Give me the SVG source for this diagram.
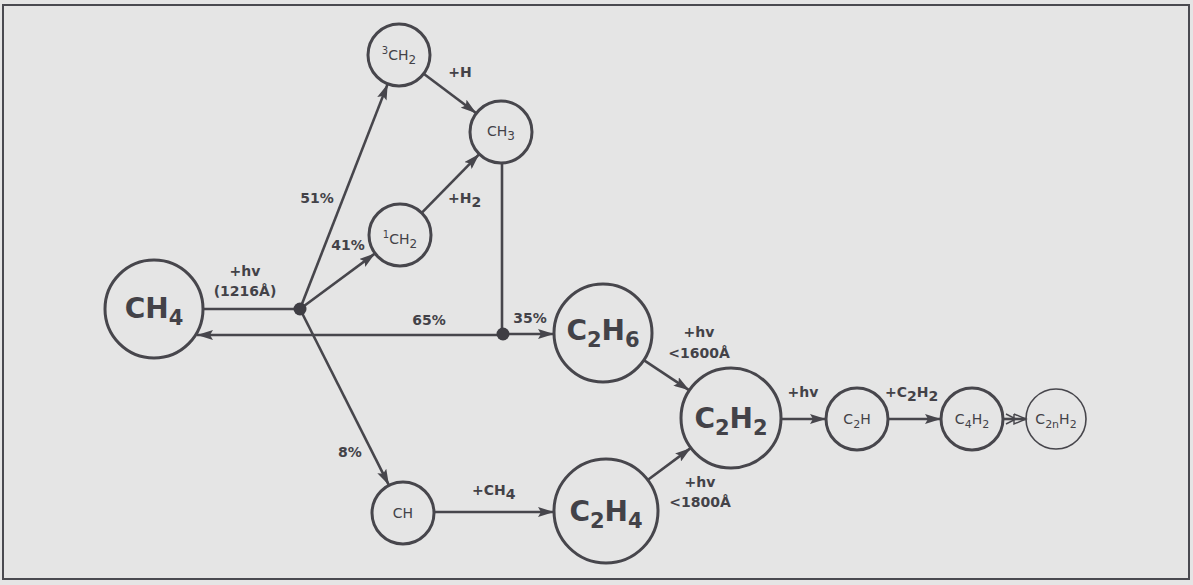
<svg xmlns="http://www.w3.org/2000/svg" width="1193" height="585" viewBox="0 0 1193 585">
<style>
.bg{fill:#e5e5e5}
.frame{fill:none;stroke:#4a4a50;stroke-width:2}
.node{fill:none;stroke:#47464c;stroke-width:3}
.thin{fill:none;stroke:#47464c;stroke-width:1.6}
.ln{fill:none;stroke:#47464c;stroke-width:2.6}
.arr{marker-end:url(#ah)}
.big{font-family:"DejaVu Sans",sans-serif;font-weight:bold;font-size:28px;fill:#434248;text-anchor:middle}
.sm{font-family:"DejaVu Sans",sans-serif;font-size:14px;fill:#434248;text-anchor:middle}
.lb{font-family:"DejaVu Sans",sans-serif;font-weight:bold;font-size:14px;fill:#434248}
.mid{text-anchor:middle}
.dot{fill:#3f3e44}
</style>
<defs>
<marker id="ah" markerUnits="userSpaceOnUse" markerWidth="18" markerHeight="10" refX="16" refY="5" orient="auto">
<path d="M0,0 L16,5 L0,10 L3,5 z" fill="#47464c"/>
</marker>
<marker id="dbl" markerUnits="userSpaceOnUse" markerWidth="24" markerHeight="12" refX="22" refY="6" orient="auto">
<path d="M2,1 L12,6 L2,11 M10,1 L22,6 L10,11 L10,1" fill="none" stroke="#47464c" stroke-width="1.4"/>
</marker>
</defs>
<rect class="bg" x="0" y="0" width="1193" height="585"/>
<rect class="frame" x="3" y="5" width="1186" height="574"/>

<g id="connectors">
<line class="ln" x1="203" y1="309" x2="300" y2="309"/>
<line class="ln arr" x1="503" y1="335" x2="197" y2="335"/>
<line class="ln" x1="502" y1="163" x2="502" y2="334"/>
<line class="ln arr" x1="300" y1="309" x2="387.7" y2="83.9"/>
<line class="ln arr" x1="300" y1="309" x2="375.1" y2="253.4"/>
<line class="ln arr" x1="300" y1="309" x2="389" y2="485.3"/>
<line class="ln arr" x1="423.7" y1="73.7" x2="476.3" y2="113.3"/>
<line class="ln arr" x1="421.7" y1="212.9" x2="479.3" y2="154.1"/>
<line class="ln arr" x1="503" y1="334" x2="554" y2="334"/>
<line class="ln arr" x1="434" y1="512" x2="554" y2="512"/>
<line class="ln arr" x1="643.8" y1="360.1" x2="689.4" y2="390.3"/>
<line class="ln arr" x1="647.7" y1="480" x2="690.9" y2="447.9"/>
<line class="ln arr" x1="781" y1="419" x2="826" y2="419"/>
<line class="ln arr" x1="888" y1="419" x2="941" y2="419"/>
<line class="ln" x1="1003" y1="419" x2="1026" y2="419" marker-end="url(#dbl)"/>
<circle class="dot" cx="300" cy="309" r="6.5"/>
<circle class="dot" cx="503" cy="334" r="6.5"/>
<text class="lb mid" x="245" y="276">+hv</text>
<text class="lb mid" x="245" y="296">(1216Å)</text>
<text class="lb mid" x="317" y="203">51%</text>
<text class="lb mid" x="348" y="250">41%</text>
<text class="lb mid" x="460" y="77">+H</text>
<text class="lb" x="448" y="203">+H<tspan dy="4">2</tspan></text>
<text class="lb mid" x="429" y="325">65%</text>
<text class="lb mid" x="530" y="323">35%</text>
<text class="lb mid" x="350" y="457">8%</text>
<text class="lb" x="472" y="495">+CH<tspan dy="4">4</tspan></text>
<text class="lb mid" x="699" y="337">+hv</text>
<text class="lb mid" x="699" y="358">&lt;1600Å</text>
<text class="lb mid" x="700" y="487">+hv</text>
<text class="lb mid" x="700" y="507">&lt;1800Å</text>
<text class="lb mid" x="803" y="397">+hv</text>
<text class="lb" x="885" y="397">+C<tspan dy="4">2</tspan><tspan dy="-4">H</tspan><tspan dy="4">2</tspan></text>
</g>

<g id="n-ch4"><circle class="node" cx="154" cy="309" r="49"/><text class="big" x="154" y="318">CH<tspan font-size="21" dy="7">4</tspan></text></g>
<g id="n-3ch2"><circle class="node" cx="399" cy="55" r="31"/><text class="sm" x="399" y="60"><tspan font-size="10" dy="-6">3</tspan><tspan dy="6">CH</tspan><tspan font-size="12" dy="4">2</tspan></text></g>
<g id="n-ch3"><circle class="node" cx="501" cy="132" r="31"/><text class="sm" x="501" y="136">CH<tspan font-size="12" dy="4">3</tspan></text></g>
<g id="n-1ch2"><circle class="node" cx="400" cy="235" r="31"/><text class="sm" x="400" y="244"><tspan font-size="10" dy="-6">1</tspan><tspan dy="6">CH</tspan><tspan font-size="12" dy="4">2</tspan></text></g>
<g id="n-ch"><circle class="node" cx="403" cy="513" r="31"/><text class="sm" x="403" y="518" font-size="13">CH</text></g>
<g id="n-c2h6"><circle class="node" cx="603" cy="333" r="49"/><text class="big" x="603" y="340">C<tspan font-size="21" dy="7">2</tspan><tspan dy="-7">H</tspan><tspan font-size="21" dy="7">6</tspan></text></g>
<g id="n-c2h4"><circle class="node" cx="606" cy="511" r="52"/><text class="big" x="606" y="521">C<tspan font-size="21" dy="7">2</tspan><tspan dy="-7">H</tspan><tspan font-size="21" dy="7">4</tspan></text></g>
<g id="n-c2h2"><circle class="node" cx="731" cy="418" r="50"/><text class="big" x="731" y="428">C<tspan font-size="21" dy="7">2</tspan><tspan dy="-7">H</tspan><tspan font-size="21" dy="7">2</tspan></text></g>
<g id="n-c2h"><circle class="node" cx="857" cy="419" r="31"/><text class="sm" x="857" y="424">C<tspan font-size="11" dy="4">2</tspan><tspan dy="-4">H</tspan></text></g>
<g id="n-c4h2"><circle class="node" cx="972" cy="419" r="31"/><text class="sm" x="972" y="424">C<tspan font-size="11" dy="4">4</tspan><tspan dy="-4">H</tspan><tspan font-size="11" dy="4">2</tspan></text></g>
<g id="n-c2nh2"><circle class="thin" cx="1056" cy="419" r="30"/><text class="sm" x="1056" y="424">C<tspan font-size="11" dy="4">2n</tspan><tspan dy="-4">H</tspan><tspan font-size="11" dy="4">2</tspan></text></g>
</svg>
